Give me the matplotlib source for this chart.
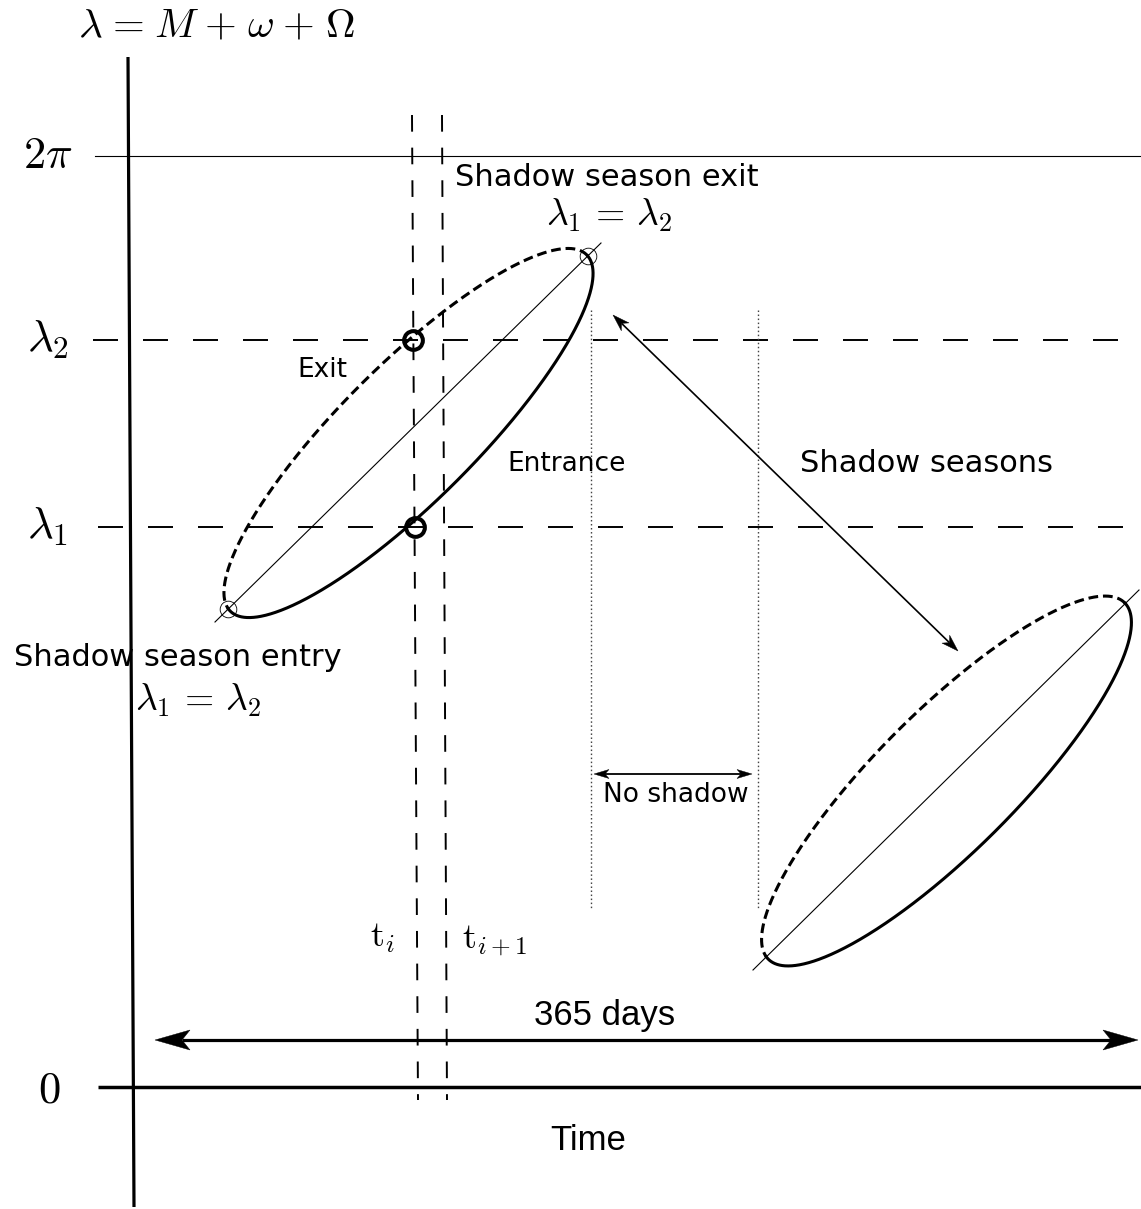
import numpy as np
import matplotlib
matplotlib.use('Agg')
import matplotlib.pyplot as plt
from matplotlib.patches import Polygon

plt.rcParams['mathtext.fontset'] = 'cm'
plt.rcParams['lines.scale_dashes'] = False

W, H = 1141, 1209
fig = plt.figure(figsize=(W / 100, H / 100), dpi=100)
ax = fig.add_axes([0, 0, 1, 1])
ax.set_xlim(0, W)
ax.set_ylim(H, 0)
ax.axis('off')

# ---- schematic data (pixel frame of the diagram) ----
level_labels = [r'$2\pi$', r'$\lambda_2$', r'$\lambda_1$', r'$0$']
level_rows = [156, 340, 527, 1087]
time_labels = [r'$\mathrm{t}_i$', r'$\mathrm{t}_{i+1}$']
time_cols_top = [412, 442]
time_cols_bottom = [418, 447]
season_bounds = [591, 758]

ellipse_centres = [(408.5, 433.0), (946.5, 781.0)]
ellipse_semi_major = [252, 252]
ellipse_semi_minor = [68, 70]
ellipse_angle_deg = [45.0, 45.0]
diagonals = [((215, 622), (601, 243)), ((753, 970), (1139, 590))]

k = 'black'

# axes of the diagram
ax.plot([128, 134], [57, 1207], color=k, lw=2.3, solid_capstyle='butt')
ax.plot([98, 1141], [level_rows[3]] * 2, color=k, lw=2.5, solid_capstyle='butt')
ax.plot([95, 1141], [level_rows[0]] * 2, color=k, lw=0.8)
ax.plot([93, 1125], [level_rows[1]] * 2, color=k, lw=1.4, dashes=(18, 18))
ax.plot([98, 1125], [level_rows[2]] * 2, color=k, lw=1.4, dashes=(18, 18))

for xt, xb in zip(time_cols_top, time_cols_bottom):
    ax.plot([xt, xb], [115, 1100], color=k, lw=1.4, dashes=(12, 11.5))

for xs in season_bounds:
    ax.plot([xs, xs], [310, 910], color='#444444', lw=1.0, dashes=(1.1, 1.8))

# level labels
for lab, yy in zip(level_labels, level_rows):
    ax.text(48, yy, lab, fontsize=32, ha='center', va='center')
ax.texts[-1].set_position((49, 1090))

ax.text(216, 26,
        r'$\lambda\hspace{0.09}=\hspace{0.09}M\hspace{0.09}+\hspace{0.09}\omega'
        r'\hspace{0.09}+\hspace{0.09}\Omega$',
        fontsize=29.5, ha='center', va='center')


def ell(c, a, b, phi_deg, th):
    phi = np.radians(phi_deg)
    ux, uy = np.cos(phi), -np.sin(phi)
    vx, vy = -np.sin(phi), -np.cos(phi)
    x = c[0] + a * np.cos(th) * ux + b * np.sin(th) * vx
    y = c[1] + a * np.cos(th) * uy + b * np.sin(th) * vy
    return x, y


def side(x, y, p0, p1):
    dx, dy = p1[0] - p0[0], p1[1] - p0[1]
    return dx * (y - p0[1]) - dy * (x - p0[0])


cross_pts = []
for c, a, b, ph, (p0, p1) in zip(ellipse_centres, ellipse_semi_major,
                                 ellipse_semi_minor, ellipse_angle_deg, diagonals):
    th = np.linspace(0, 2 * np.pi, 8001)
    x, y = ell(c, a, b, ph, th)
    s = side(x, y, p0, p1)
    idx = np.where(np.sign(s[:-1]) != np.sign(s[1:]))[0]
    ts = [th[i] - s[i] * (th[i + 1] - th[i]) / (s[i + 1] - s[i]) for i in idx[:2]]
    t0, t1 = ts
    seg1 = np.linspace(t0, t1, 800)
    seg2 = np.linspace(t1, t0 + 2 * np.pi, 800)
    for seg in (seg1, seg2):
        xs, ys = ell(c, a, b, ph, seg)
        mid = len(seg) // 2
        if side(xs[mid], ys[mid], p0, p1) < 0:
            ax.plot(xs, ys, color=k, lw=2.2, dashes=(7, 3.5))
        else:
            ax.plot(xs, ys, color=k, lw=2.2)
    ax.plot([p0[0], p1[0]], [p0[1], p1[1]], color=k, lw=0.8)
    cross_pts.append([ell(c, a, b, ph, t) for t in ts])

# small circles where the first ellipse meets its diagonal
for (px, py) in cross_pts[0]:
    ax.plot(px, py, 'o', ms=12, mfc='none', mec=k, mew=0.6)

# thick circles at the t_i intersections
ax.plot([413, 415], [level_rows[1], level_rows[2]], 'o', ms=13.5, mfc='none',
        mec=k, mew=2.9, ls='none')


# stealth-style double arrows
def head(tip, tail, L, w, notch):
    tip = np.asarray(tip, float)
    d = tip - np.asarray(tail, float)
    d /= np.hypot(*d)
    n = np.array([-d[1], d[0]])
    back = tip - L * d
    ax.add_patch(Polygon([tip, back + w * n, tip - notch * d, back - w * n],
                         closed=True, facecolor=k, edgecolor=k, lw=0.3))
    return tip - notch * d


def darrow(p, q, L, w, notch, lw):
    a_ = head(p, q, L, w, notch)
    b_ = head(q, p, L, w, notch)
    ax.plot([a_[0], b_[0]], [a_[1], b_[1]], color=k, lw=lw, solid_capstyle='butt')


darrow((613, 315), (958, 651), 17, 5.5, 12, 1.2)
darrow((594, 774), (752, 774), 15, 4.5, 11, 1.3)
darrow((155, 1040), (1138, 1040), 35, 10, 27, 2.3)

# text
ax.text(607, 178, 'Shadow season exit', fontsize=22, ha='center', va='center')
ax.text(609, 215, r'$\lambda_1\,=\,\lambda_2$', fontsize=27, ha='center', va='center')
ax.text(178, 657, 'Shadow season entry', fontsize=22, ha='center', va='center')
ax.text(198, 700, r'$\lambda_1\,=\,\lambda_2$', fontsize=27, ha='center', va='center')
ax.text(322, 370, 'Exit', fontsize=19, ha='center', va='center')
ax.text(567, 464, 'Entrance', fontsize=19, ha='center', va='center')
ax.text(927, 463, 'Shadow seasons', fontsize=22, ha='center', va='center')
ax.text(676, 795, 'No shadow', fontsize=19, ha='center', va='center')
ax.text(383, 938, time_labels[0], fontsize=26, ha='center', va='center')
ax.text(495, 940, time_labels[1], fontsize=26, ha='center', va='center')
ax.text(605, 1016, '365 days', fontsize=25, ha='center', va='center',
        family='Liberation Sans')
ax.text(588, 1140, 'Time', fontsize=25, ha='center', va='center',
        family='Liberation Sans')

fig.savefig('out.png', dpi=100)
